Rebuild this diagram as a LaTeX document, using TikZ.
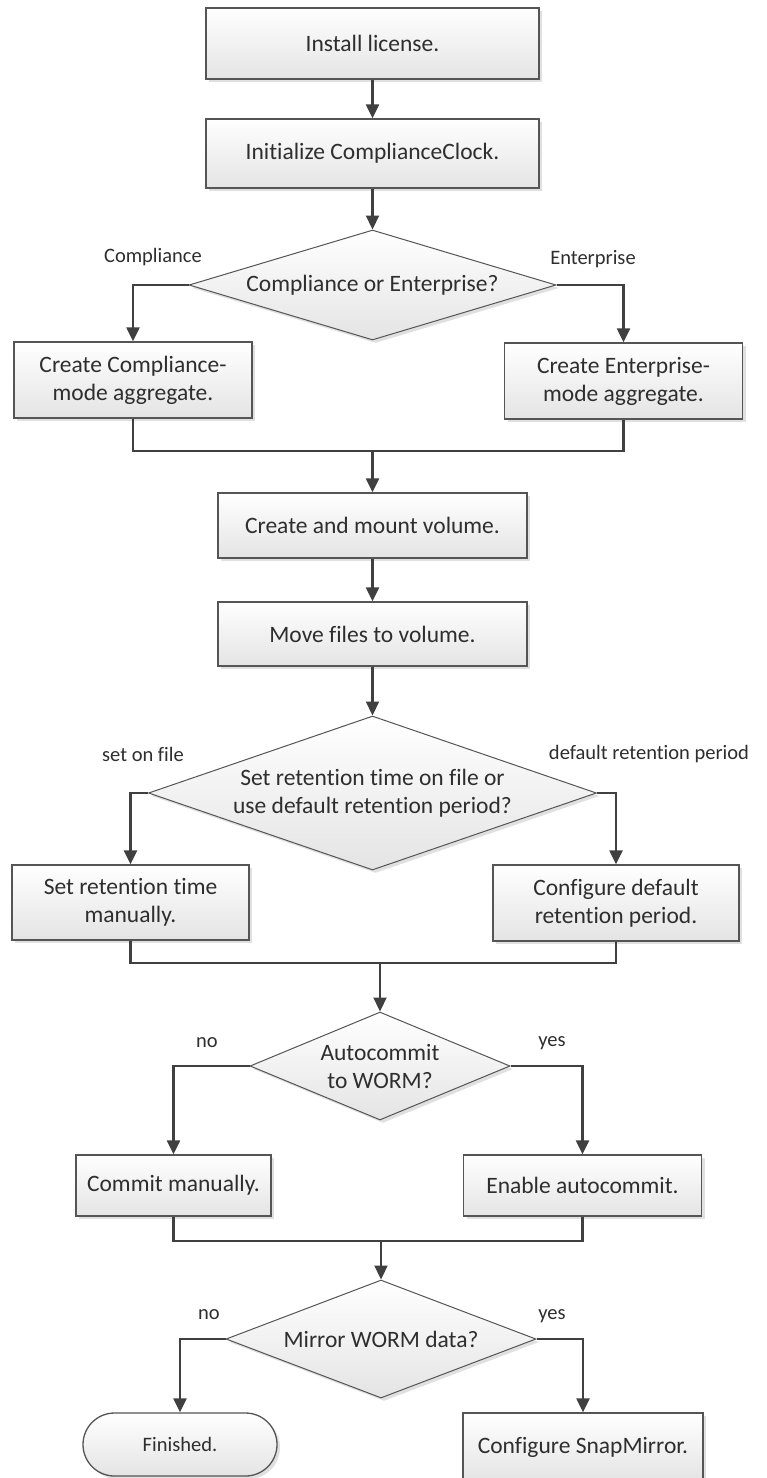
\documentclass[tikz,border=0pt]{standalone}
\usepackage{fontspec}
\setmainfont{Carlito}[Ligatures=NoCommon]
\usetikzlibrary{shapes.geometric,shapes.misc,arrows.meta,shadows}
\definecolor{txt}{HTML}{2E2E2E}
\definecolor{ln}{HTML}{404040}
\definecolor{bd}{HTML}{555555}
\definecolor{fillbot}{HTML}{E4E4E4}
\begin{document}
\begin{tikzpicture}[x=1pt,y=-1pt,
  every node/.style={text=txt},
  base/.style={draw=bd, line width=1.3pt, top color=white, bottom color=fillbot, inner sep=0pt,
    font=\fontsize{23.5}{28}\selectfont, align=center,
    drop shadow={shadow xshift=3pt, shadow yshift=-3pt, fill=black, opacity=0.12}},
  procbox/.style={base, rectangle},
  decbox/.style={base, diamond, line width=1pt},
  termbox/.style={base, rounded rectangle, font=\fontsize{20.5}{24}\selectfont},
  dtext/.style={font=\fontsize{23.5}{28}\selectfont, align=center, text=txt},
  lbl/.style={font=\fontsize{20.5}{24}\selectfont},
  conn/.style={draw=ln, line width=2.2pt},
  arr/.style={conn, -{Triangle[length=14pt,width=13pt]}},
]
\fill[white] (0,0) rectangle (767,1478);
\useasboundingbox (0,0) rectangle (767,1478);

\node[procbox, minimum width=333pt, minimum height=71pt] (install) at (372.5,43.5) {Install license.};
\node[procbox, minimum width=333pt, minimum height=69pt] (init) at (372.5,153.5) {Initialize ComplianceClock.};
\node[decbox, minimum width=367pt, minimum height=110pt,
  label={[dtext]center:Compliance or Enterprise?}] (d1) at (372.5,285) {};
\node[procbox, minimum width=238pt, minimum height=76pt] (comp) at (133,380) {Create Compliance-\\mode aggregate.};
\node[procbox, minimum width=238pt, minimum height=76pt] (ent) at (623.5,381) {Create Enterprise-\\mode aggregate.};
\coordinate (m1) at (372.5,451);
\node[procbox, minimum width=309pt, minimum height=65pt] (create) at (372.5,525.5) {Create and mount volume.};
\node[procbox, minimum width=309pt, minimum height=64pt] (move) at (372.5,634) {Move files to volume.};
\node[decbox, minimum width=448pt, minimum height=154pt,
  label={[dtext]center:Set retention time on file or\\use default retention period?}] (d2) at (372.5,793) {};
\node[procbox, minimum width=237pt, minimum height=75pt] (setman) at (130.5,902.5) {Set retention time\\manually.};
\node[procbox, minimum width=246pt, minimum height=76pt] (confdef) at (616,903) {Configure default\\retention period.};
\coordinate (m2) at (380,963);
\node[decbox, minimum width=260pt, minimum height=108pt,
  label={[dtext]center:Autocommit\\to WORM?}] (d3) at (380,1066) {};
\node[procbox, minimum width=195pt, minimum height=61pt] (commit) at (173.5,1185.5) {Commit manually.};
\node[procbox, minimum width=238pt, minimum height=61pt] (enable) at (582.5,1185.5) {Enable autocommit.};
\coordinate (m3) at (381,1241);
\node[decbox, minimum width=310pt, minimum height=118pt,
  label={[dtext]center:Mirror WORM data?}] (d4) at (381,1339) {};
\node[termbox, minimum width=194pt, minimum height=63pt] (fin) at (180,1444.5) {Finished.};
\node[procbox, minimum width=240pt, minimum height=68pt] (snap) at (583,1447) {Configure SnapMirror.};

% labels
\node[lbl] (lcomp) at (153,257) {Compliance};
\node[lbl] (lent) at (593,259) {Enterprise};
\node[lbl] (lset) at (143,754) {set on file};
\node[lbl] (ldef) at (649,754) {default retention period};
\node[lbl] (lno1) at (207,1043) {no};
\node[lbl] (lyes1) at (552,1043) {yes};
\node[lbl] (lno2) at (209,1315) {no};
\node[lbl] (lyes2) at (552,1316) {yes};

% connectors
\draw[arr] (install) -- (init);
\draw[arr] (init) -- (d1);
\draw[arr] (d1.west) -| (comp.north);
\draw[arr] (d1.east) -| (ent.north);
\draw[conn] (comp.south) |- (m1) -| (ent.south);
\draw[arr] (m1) -- (create.north);
\draw[arr] (create) -- (move);
\draw[arr] (move) -- (d2);
\draw[arr] (d2.west) -| (setman.north);
\draw[arr] (d2.east) -| (confdef.north);
\draw[conn] (setman.south) |- (m2) -| (confdef.south);
\draw[arr] (m2) -- (d3.north);
\draw[arr] (d3.west) -| (commit.north);
\draw[arr] (d3.east) -| (enable.north);
\draw[conn] (commit.south) |- (m3) -| (enable.south);
\draw[arr] (m3) -- (d4.north);
\draw[arr] (d4.west) -| (fin.north);
\draw[arr] (d4.east) -| (snap.north);
\end{tikzpicture}
\end{document}
